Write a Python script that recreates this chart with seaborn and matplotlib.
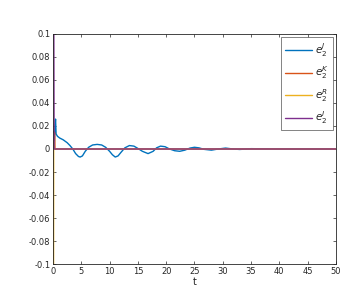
import matplotlib
matplotlib.use('Agg')
import matplotlib.pyplot as plt
import pandas as pd
import seaborn as sns

# error component e_2^J (blue)
t_J = [0.2, 0.35, 0.45, 0.55, 0.8, 1.2, 1.8, 2.5, 3.0, 3.5, 4.0, 4.5, 4.8, 5.2, 5.7,
       6.3, 7.0, 7.8, 8.6, 9.3, 10.0, 10.5, 11.0, 11.5, 12.0, 12.7, 13.5, 14.3,
       15.0, 15.8, 16.8, 17.7, 18.3, 19.0, 19.8, 20.6, 21.5, 22.4, 23.3, 24.2,
       25.0, 25.8, 26.7, 28.0, 29.2, 30.5, 31.8, 33.0, 35.0, 40.0, 50.0]
e_J = [0.0, 0.02, 0.026, 0.013, 0.011, 0.0095, 0.008, 0.0055, 0.003, 0.0, -0.004,
       -0.0065, -0.007, -0.006, -0.002, 0.0015, 0.0035, 0.004, 0.0035, 0.0015,
       -0.002, -0.005, -0.007, -0.006, -0.003, 0.001, 0.003, 0.0025, 0.0005,
       -0.002, -0.004, -0.002, 0.001, 0.0025, 0.002, 0.0, -0.0015, -0.002,
       -0.001, 0.0008, 0.0015, 0.001, -0.0003, -0.001, 0.0, 0.0008, 0.0,
       -0.0004, 0.0003, 0.0, 0.0]

# e_2^K (red)
t_K = [0.1, 0.3, 0.35, 50]
e_K = [0.015, 0.014, 0.0, 0.0]

# e_2^R (yellow)
t_R = [0.1, 0.12, 0.2, 50]
e_R = [-0.1, 0.007, 0.0, 0.0]

# e_2^I (purple)
t_I = [0.15, 0.2, 50]
e_I = [0.1, 0.0, 0.0]

labels = [r'$e_2^J$', r'$e_2^K$', r'$e_2^R$', r'$e_2^I$']
colors = ['#0072BD', '#D95319', '#EDB120', '#7E2F8E']

# long table for seaborn
df = pd.concat([
    pd.DataFrame({'t': t_J, 'e': e_J, 'series': labels[0]}),
    pd.DataFrame({'t': t_K, 'e': e_K, 'series': labels[1]}),
    pd.DataFrame({'t': t_R, 'e': e_R, 'series': labels[2]}),
    pd.DataFrame({'t': t_I, 'e': e_I, 'series': labels[3]}),
], ignore_index=True)

sns.set_style('ticks')
plt.rcParams['font.family'] = ['DejaVu Sans']

fig = plt.figure(figsize=(3.51, 2.98), dpi=100)
ax = fig.add_axes([0.151, 0.114, 0.806, 0.772])

sns.lineplot(data=df, x='t', y='e', hue='series', hue_order=labels,
             palette=colors, estimator=None, sort=False, linewidth=1.0, ax=ax)

ax.set_xlim(0, 50)
ax.set_ylim(-0.1, 0.1)
ax.set_xticks(range(0, 51, 5))
yt = [-0.1, -0.08, -0.06, -0.04, -0.02, 0, 0.02, 0.04, 0.06, 0.08, 0.1]
ax.set_yticks(yt)
ax.set_yticklabels(['-0.1', '-0.08', '-0.06', '-0.04', '-0.02', '0',
                    '0.02', '0.04', '0.06', '0.08', '0.1'])
ax.tick_params(direction='in', length=2.5, width=0.5, labelsize=6,
               top=True, right=True, colors='#262626', pad=2)
for s in ax.spines.values():
    s.set_visible(True)
    s.set_linewidth(0.6)
    s.set_color('#262626')
ax.set_xlabel('t', fontsize=7, labelpad=1)
ax.set_ylabel('')

leg = ax.legend(loc='upper right', fontsize=7.5, frameon=True, fancybox=False,
                edgecolor='#262626', handlelength=2.6, labelspacing=0.55,
                borderaxespad=0.25, handletextpad=0.3, borderpad=0.4)
leg.get_frame().set_linewidth(0.5)

fig.savefig('out.png', dpi=100)
